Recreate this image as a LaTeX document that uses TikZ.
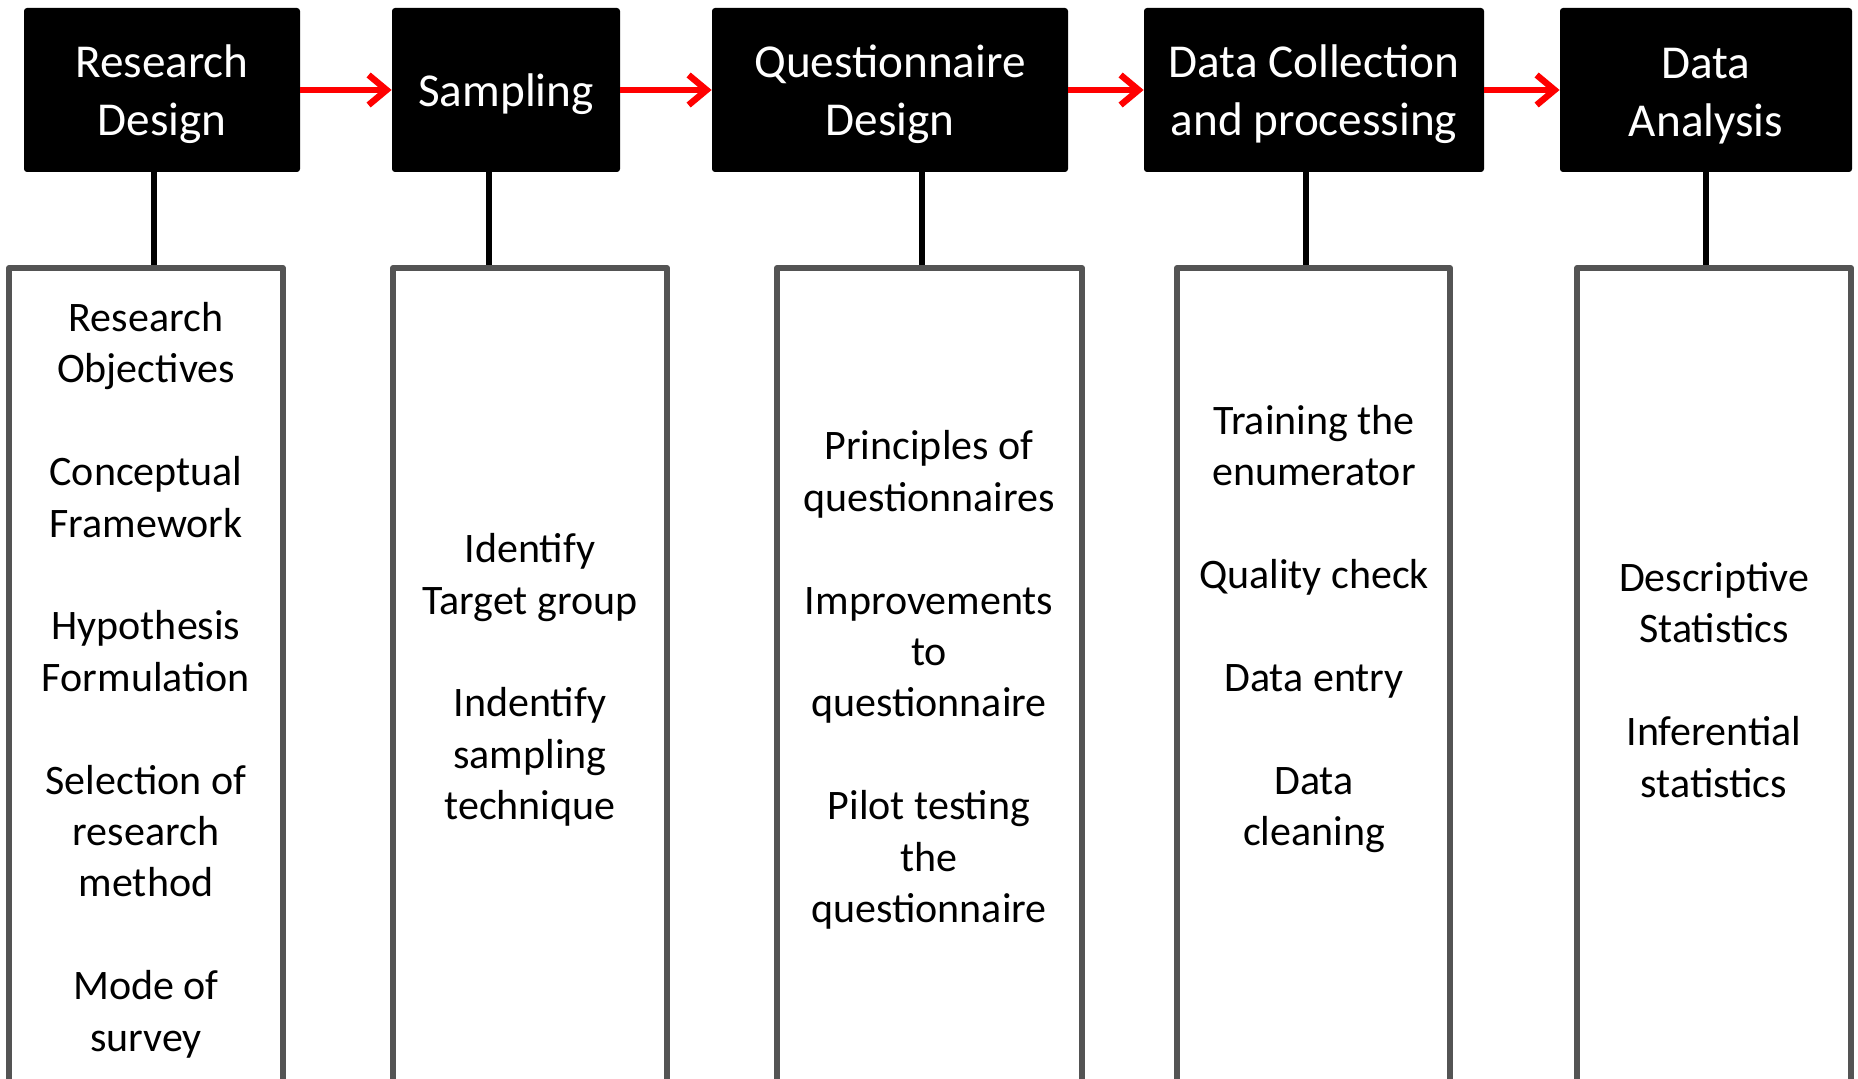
\documentclass[tikz,border=0pt]{standalone}
\usepackage{fontspec}
\setmainfont{Carlito}
\usetikzlibrary{arrows.meta}
\newcommand\lift{\rule{0pt}{21pt}}

\begin{document}
\begin{tikzpicture}[x=0.5pt,y=-0.5pt,line join=round,
    head/.style={fill=black,text=white,rounded corners=1.5pt,minimum height=82pt,
      align=center,inner sep=0pt,font=\fontsize{23.6}{29}\selectfont},
    panel/.style={draw=black!67,line width=2.8pt,minimum height=420pt,minimum width=137pt,inner sep=0pt},
    items/.style={align=center,font=\fontsize{21}{25.7}\selectfont},
    flow/.style={red,line width=3.2pt,-{Straight Barb[length=9pt,width=15pt,line width=3.2pt]}},
    stem/.style={line width=3pt}]
  \useasboundingbox (0,0) rectangle (1858,1079);
  % stages
  \node[head,minimum width=138pt] (hd1) at (162,90) {\lift Research\\Design};
  \node[head,minimum width=114pt] (hd2) at (506,90) {\lift Sampling};
  \node[head,minimum width=178pt] (hd3) at (890,90) {\lift Questionnaire\\Design};
  \node[head,minimum width=170pt] (hd4) at (1314,90) {\lift Data Collection\\and processing};
  \node[head,minimum width=146pt] (hd5) at (1706,90) {\lift Data\\Analysis};
  % panels below
  \node[panel,anchor=north] (lo1) at (146,265) {};
  \node[panel,anchor=north] (lo2) at (530,265) {};
  \node[panel,anchor=north,minimum width=152.5pt] (lo3) at (929.5,265) {};
  \node[panel,anchor=north,minimum width=136.5pt] (lo4) at (1313.5,265) {};
  \node[panel,anchor=north] (lo5) at (1714,265) {};
  \foreach \i/\dx in {1/-4pt,2/-8.5pt,3/16pt,4/-4pt,5/0pt}
    \draw[stem] ([xshift=\dx]hd\i.south) -- ([xshift=\dx]hd\i.south |- lo\i.north);
  \foreach \i [evaluate=\i as \j using int(\i+1)] in {1,...,4}
    \draw[flow] (hd\i) -- (hd\j);
  % contents
  \node[items] (tx1) at (146,680) {Research\\Objectives\\[25.7pt]Conceptual\\Framework\\[25.7pt]%
    Hypothesis\\Formulation\\[25.7pt]Selection of\\research\\method\\[25.7pt]Mode of\\survey};
  \node[items] (tx2) at (530,680) {Identify\\Target group\\[25.7pt]Indentify\\sampling\\technique};
  \node[items] (tx3) at (929,680) {Principles of\\questionnaires\\[25.7pt]Improvements\\to\\questionnaire\\[25.7pt]%
    Pilot testing\\the\\questionnaire};
  \node[items] (tx4) at (1314,629) {Training the\\enumerator\\[25.7pt]Quality check\\[25.7pt]Data entry\\[25.7pt]%
    Data\\cleaning};
  \node[items] (tx5) at (1714,680) {Descriptive\\Statistics\\[25.7pt]Inferential\\statistics};
\end{tikzpicture}
\end{document}
